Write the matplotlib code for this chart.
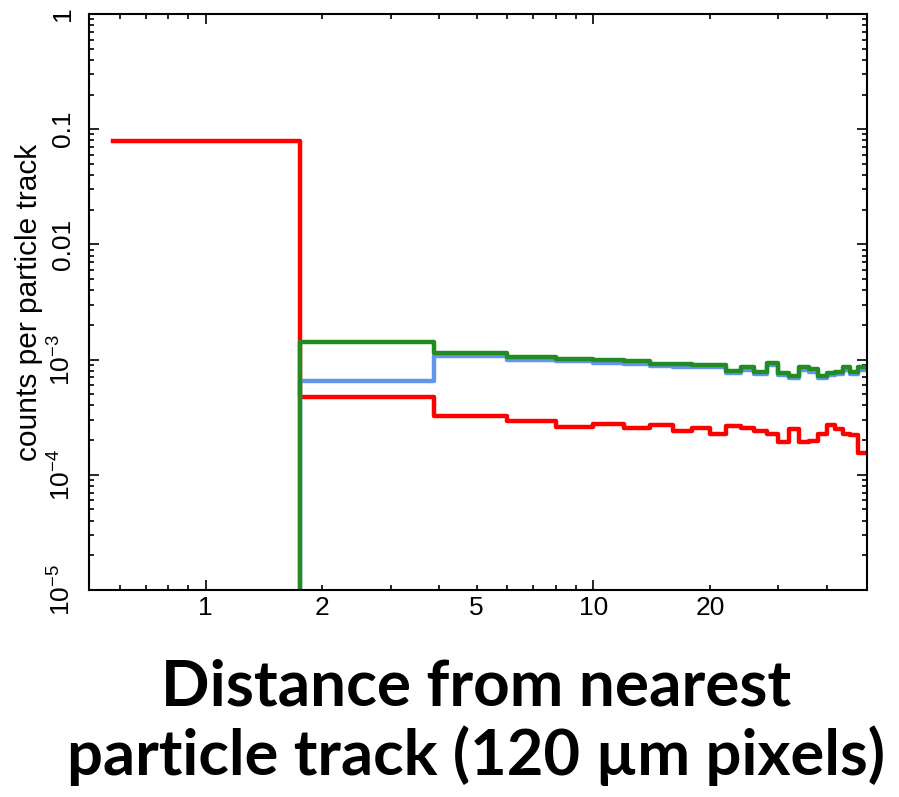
import matplotlib
matplotlib.use("Agg")
import matplotlib.pyplot as plt
from matplotlib.ticker import FixedLocator, FixedFormatter, FuncFormatter, LogLocator, NullFormatter

plt.rcParams['font.family'] = ['Liberation Sans', 'DejaVu Sans']
plt.rcParams['mathtext.fontset'] = 'custom'
plt.rcParams['mathtext.rm'] = 'Liberation Sans'
plt.rcParams['mathtext.it'] = 'Liberation Sans:italic'

# ---- data ----
# bin edges (pixel distance)
red_edges = [0.577, 1.75, 3.87, 6, 8, 10, 12, 14, 16, 18, 20, 22, 24, 26, 28,
             30, 32, 34, 36, 38, 40, 42, 44, 46, 48, 50]
red_values = [0.079, 4.76e-4, 3.24e-4, 2.95e-4, 2.60e-4, 2.74e-4, 2.55e-4,
              2.71e-4, 2.40e-4, 2.56e-4, 2.25e-4, 2.67e-4, 2.53e-4, 2.40e-4,
              2.25e-4, 1.94e-4, 2.50e-4, 1.91e-4, 1.96e-4, 2.25e-4, 2.71e-4,
              2.50e-4, 2.25e-4, 2.20e-4, 1.54e-4]

gb_edges = [1.75, 3.87, 6, 8, 10, 12, 14, 16, 18, 20, 22, 24, 26, 28,
            30, 32, 34, 36, 38, 40, 42, 44, 46, 48, 50]
blue_values = [6.56e-4, 1.085e-3, 1.0e-3, 9.65e-4, 9.42e-4, 9.22e-4, 8.75e-4,
               8.70e-4, 8.57e-4, 8.57e-4, 7.65e-4, 8.18e-4, 7.50e-4, 8.98e-4,
               7.35e-4, 6.88e-4, 8.18e-4, 7.86e-4, 6.88e-4, 7.35e-4, 7.50e-4,
               8.18e-4, 7.50e-4, 8.18e-4]
green_values = [1.43e-3, 1.135e-3, 1.047e-3, 1.01e-3, 9.86e-4, 9.66e-4, 9.16e-4,
                9.10e-4, 8.97e-4, 8.97e-4, 8.01e-4, 8.57e-4, 7.85e-4, 9.40e-4,
                7.70e-4, 7.20e-4, 8.57e-4, 8.23e-4, 7.20e-4, 7.70e-4, 7.85e-4,
                8.57e-4, 7.85e-4, 8.57e-4]

x_major = [1, 10]
x_minor = [0.6, 0.7, 0.8, 0.9, 2, 3, 4, 5, 6, 7, 8, 9, 20, 30, 40]
x_labelled = {1: '1', 2: '2', 5: '5', 10: '10', 20: '20'}
y_ticks = [1e-5, 1e-4, 1e-3, 1e-2, 1e-1, 1]
y_tick_labels = [r'$\mathregular{10^{-5}}$', r'$\mathregular{10^{-4}}$',
                 r'$\mathregular{10^{-3}}$', '0.01', '0.1', '1']

ylabel = 'counts per particle track'
xlabel_line1 = 'Distance from nearest'
xlabel_line2 = 'particle track (120 µm pixels)'

# ---- figure ----
fig = plt.figure(figsize=(8.99, 7.97), dpi=100)
ax = fig.add_axes([0.099, 0.2597, 0.8655, 0.7227])
ax.set_xscale('log')
ax.set_yscale('log', nonpositive='clip')

lw = 3.2
ax.step(red_edges, red_values + [red_values[-1]], where='post', color='#ff0000', lw=lw)
ax.step([gb_edges[0]] + gb_edges, [0] + blue_values + [blue_values[-1]], where='post',
        color='#6495ed', lw=lw)
ax.step([gb_edges[0]] + gb_edges, [0] + green_values + [green_values[-1]], where='post',
        color='#228b22', lw=lw)

ax.set_xlim(0.5, 50.8)
ax.set_ylim(1e-5, 1)

ax.xaxis.set_major_locator(FixedLocator(x_major))
ax.xaxis.set_minor_locator(FixedLocator(x_minor))
ax.xaxis.set_major_formatter(FuncFormatter(lambda v, p: x_labelled.get(round(v, 3), '')))
ax.xaxis.set_minor_formatter(FuncFormatter(lambda v, p: x_labelled.get(round(v, 3), '')))

ax.yaxis.set_major_locator(FixedLocator(y_ticks))
ax.yaxis.set_major_formatter(FixedFormatter(y_tick_labels))
ax.yaxis.set_minor_locator(LogLocator(base=10, subs=[2, 3, 4, 5, 6, 7, 8, 9], numticks=20))
ax.yaxis.set_minor_formatter(NullFormatter())

for s in ax.spines.values():
    s.set_linewidth(1.5)

ax.tick_params(which='both', direction='in', top=True, right=True, width=1.2,
               labelsize=19, color='black')
ax.tick_params(which='major', length=7.5)
ax.tick_params(which='minor', length=3.8)
ax.tick_params(axis='x', which='both', pad=4)
ax.tick_params(axis='y', which='both', pad=10, labelrotation=90)
for lab in ax.get_yticklabels():
    lab.set_va('center')
    lab.set_ha('right')

ax.set_ylabel(ylabel, fontsize=21.5, va='center')
ax.yaxis.set_label_coords(-0.077, 0.5)

fig.text(0.53, 1 - 706 / 797, xlabel_line1, fontsize=46, fontweight='bold',
         family=['Lato', 'DejaVu Sans'], ha='center', va='baseline')
fig.text(0.53, 1 - 775 / 797, xlabel_line2, fontsize=45.5, fontweight='bold',
         family=['Lato', 'DejaVu Sans'], ha='center', va='baseline')

fig.savefig('out.png', dpi=100)
